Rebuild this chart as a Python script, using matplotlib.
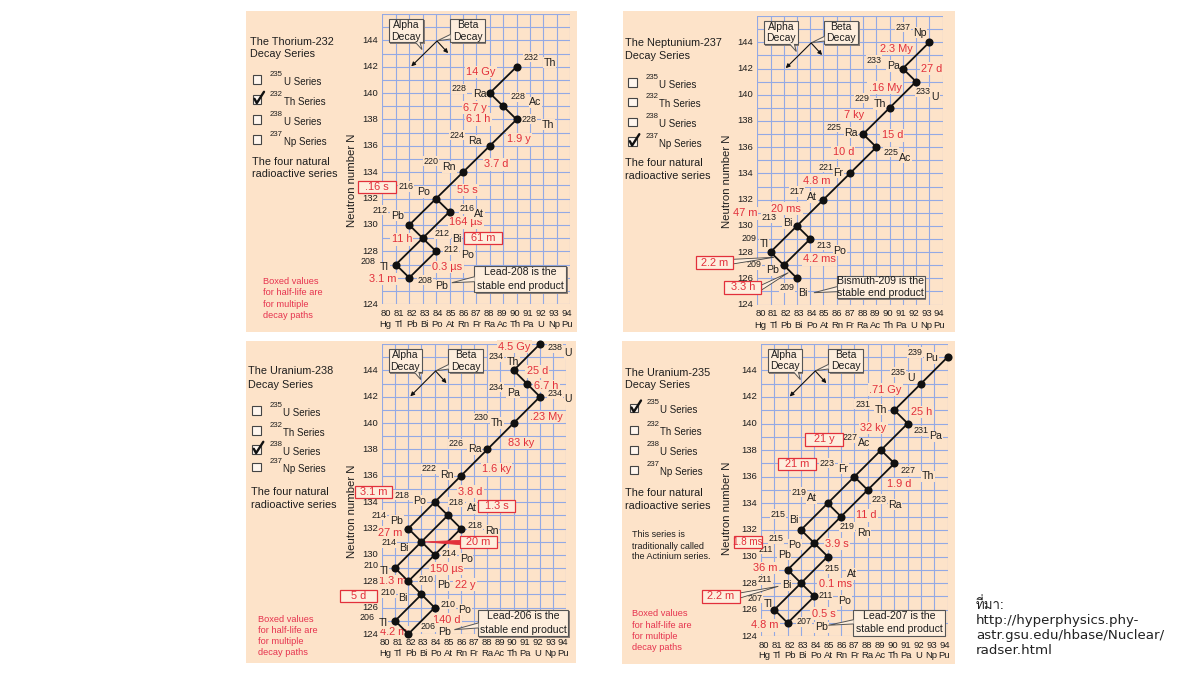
import matplotlib
matplotlib.use('Agg')
import matplotlib.pyplot as plt
from matplotlib.patches import Rectangle, Polygon
from matplotlib.lines import Line2D
from matplotlib import font_manager, ft2font

plt.rcParams['font.family'] = ['Liberation Sans', 'DejaVu Sans']

# ---------------------------------------------------------------- data
Z_TICKS = list(range(80, 95))
Z_TICK_SYMBOLS = ['Hg', 'Tl', 'Pb', 'Bi', 'Po', 'At', 'Rn', 'Fr', 'Ra', 'Ac',
                  'Th', 'Pa', 'U', 'Np', 'Pu']
N_TICKS = list(range(124, 145, 2))
CHECK_MASSES = ['235', '232', '238', '237']
CHECK_NAMES = ['U Series', 'Th Series', 'U Series', 'Np Series']

# Thorium-232 series
TH232_TITLE = ['The Thorium-232', 'Decay Series']
TH232_NUCLIDES = ['Th232', 'Ra228', 'Ac228', 'Th228', 'Ra224', 'Rn220', 'Po216',
                  'Pb212', 'At216', 'Bi212', 'Tl208', 'Po212', 'Pb208']
TH232_Z = [90, 88, 89, 90, 88, 86, 84, 82, 85, 83, 81, 84, 82]
TH232_N = [142, 140, 139, 138, 136, 134, 132, 130, 131, 129, 127, 128, 126]
TH232_DECAYS = [('Th232', 'Ra228'), ('Ra228', 'Ac228'), ('Ac228', 'Th228'),
                ('Th228', 'Ra224'), ('Ra224', 'Rn220'), ('Rn220', 'Po216'),
                ('Po216', 'Pb212'), ('Po216', 'At216'), ('At216', 'Bi212'),
                ('Pb212', 'Bi212'), ('Bi212', 'Tl208'), ('Bi212', 'Po212'),
                ('Tl208', 'Pb208'), ('Po212', 'Pb208')]
TH232_HALFLIVES = ['14 Gy', '6.7 y', '6.1 h', '1.9 y', '3.7 d', '55 s', '.16 s',
                   '164 µs', '61 m', '11 h', '0.3 µs', '3.1 m']
TH232_BOXED = ['.16 s', '61 m']
TH232_END = ['Lead-208 is the', 'stable end product']

# Neptunium-237 series
NP237_TITLE = ['The Neptunium-237', 'Decay Series']
NP237_NUCLIDES = ['Np237', 'Pa233', 'U233', 'Th229', 'Ra225', 'Ac225', 'Fr221',
                  'At217', 'Bi213', 'Tl209', 'Po213', 'Pb209', 'Bi209']
NP237_Z = [93, 91, 92, 90, 88, 89, 87, 85, 83, 81, 84, 82, 83]
NP237_N = [144, 142, 141, 139, 137, 136, 134, 132, 130, 128, 129, 127, 126]
NP237_DECAYS = [('Np237', 'Pa233'), ('Pa233', 'U233'), ('U233', 'Th229'),
                ('Th229', 'Ra225'), ('Ra225', 'Ac225'), ('Ac225', 'Fr221'),
                ('Fr221', 'At217'), ('At217', 'Bi213'), ('Bi213', 'Tl209'),
                ('Bi213', 'Po213'), ('Tl209', 'Pb209'), ('Po213', 'Pb209'),
                ('Pb209', 'Bi209')]
NP237_HALFLIVES = ['2.3 My', '27 d', '.16 My', '7 ky', '15 d', '10 d', '4.8 m',
                   '20 ms', '47 m', '4.2 ms', '2.2 m', '3.3 h']
NP237_BOXED = ['2.2 m', '3.3 h']
NP237_END = ['Bismuth-209 is the', 'stable end product']

# Uranium-238 series
U238_TITLE = ['The Uranium-238', 'Decay Series']
U238_NUCLIDES = ['U238', 'Th234', 'Pa234', 'U234', 'Th230', 'Ra226', 'Rn222',
                 'Po218', 'Pb214', 'At218', 'Rn218', 'Bi214', 'Po214', 'Tl210',
                 'Pb210', 'Bi210', 'Po210', 'Tl206', 'Pb206']
U238_Z = [92, 90, 91, 92, 90, 88, 86, 84, 82, 85, 86, 83, 84, 81, 82, 83, 84, 81, 82]
U238_N = [146, 144, 143, 142, 140, 138, 136, 134, 132, 133, 132, 131, 130, 129,
          128, 127, 126, 125, 124]
U238_DECAYS = [('U238', 'Th234'), ('Th234', 'Pa234'), ('Pa234', 'U234'),
               ('U234', 'Th230'), ('Th230', 'Ra226'), ('Ra226', 'Rn222'),
               ('Rn222', 'Po218'), ('Po218', 'Pb214'), ('Po218', 'At218'),
               ('At218', 'Rn218'), ('At218', 'Bi214'), ('Pb214', 'Bi214'),
               ('Rn218', 'Po214'), ('Bi214', 'Po214'), ('Bi214', 'Tl210'),
               ('Tl210', 'Pb210'), ('Po214', 'Pb210'), ('Pb210', 'Bi210'),
               ('Bi210', 'Po210'), ('Bi210', 'Tl206'), ('Tl206', 'Pb206'),
               ('Po210', 'Pb206')]
U238_HALFLIVES = ['4.5 Gy', '25 d', '6.7 h', '.23 My', '83 ky', '1.6 ky', '3.8 d',
                  '3.1 m', '1.3 s', '27 m', '20 m', '150 µs', '1.3 m', '22 y',
                  '5 d', '140 d', '4.2 m']
U238_BOXED = ['3.1 m', '1.3 s', '20 m', '5 d']
U238_END = ['Lead-206 is the', 'stable end product']

# Uranium-235 series
U235_TITLE = ['The Uranium-235', 'Decay Series']
U235_NUCLIDES = ['Pu239', 'U235', 'Th231', 'Pa231', 'Ac227', 'Th227', 'Fr223',
                 'Ra223', 'At219', 'Rn219', 'Bi215', 'Po215', 'At215', 'Pb211',
                 'Bi211', 'Tl207', 'Po211', 'Pb207']
U235_Z = [94, 92, 90, 91, 89, 90, 87, 88, 85, 86, 83, 84, 85, 82, 83, 81, 84, 82]
U235_N = [145, 143, 141, 140, 138, 137, 136, 135, 134, 133, 132, 131, 130, 129,
          128, 126, 127, 125]
U235_DECAYS = [('Pu239', 'U235'), ('U235', 'Th231'), ('Th231', 'Pa231'),
               ('Pa231', 'Ac227'), ('Ac227', 'Fr223'), ('Ac227', 'Th227'),
               ('Fr223', 'Ra223'), ('Th227', 'Ra223'), ('Fr223', 'At219'),
               ('Ra223', 'Rn219'), ('At219', 'Rn219'), ('At219', 'Bi215'),
               ('Rn219', 'Po215'), ('Bi215', 'Po215'), ('Po215', 'Pb211'),
               ('Po215', 'At215'), ('Pb211', 'Bi211'), ('At215', 'Bi211'),
               ('Bi211', 'Tl207'), ('Bi211', 'Po211'), ('Tl207', 'Pb207'),
               ('Po211', 'Pb207')]
U235_HALFLIVES = ['.71 Gy', '25 h', '32 ky', '21 y', '21 m', '1.9 d', '11 d',
                  '1.8 ms', '3.9 s', '36 m', '0.1 ms', '2.2 m', '0.5 s', '4.8 m']
U235_BOXED = ['21 y', '21 m', '1.8 ms', '2.2 m']
U235_END = ['Lead-207 is the', 'stable end product']

SOURCE_LINES = ['ที่มา:', 'http://hyperphysics.phy-', 'astr.gsu.edu/hbase/Nuclear/',
                'radser.html']

# ---------------------------------------------------------------- layout
W, H = 1200, 675
PEACH = '#fde3c9'
BOXFILL = '#feeedd'
GRID = '#93a9e4'
RED = '#e2303b'
PINK = '#e6344f'
INK = '#1e1e1e'

LAYOUT = [
    dict(series='th', bg=(246, 11, 577, 332), ax=(382.4, 570.3, 14.0, 304.1),
         title=(250, [41.7, 54]), checks=(253, [79.3, 99.3, 119.3, 139.3]), checked=1,
         natural=(252, [161.7, 174]), note=(263, [281, 292.7, 304.3, 315]),
         ylab=(351.7, 180), xrows=(9.5, 20), hidden_ticks=[126],
         labels=[(90.51, 92.0, 142.3), (85.12, 86.73, 139.9), (89.56, 90.95, 139.3),
                 (90.33, 91.87, 137.6), (85.02, 86.41, 136.4), (83.06, 84.47, 134.4),
                 (81.19, 82.58, 132.5), (79.28, 80.62, 130.7), (85.74, 86.85, 130.8),
                 (83.92, 85.22, 128.9), (78.34, 79.83, 126.8), (84.57, 85.86, 127.7),
                 (82.63, 83.92, 125.4)],
         hl=[(87.35, 141.6), (86.9, 138.9), (87.15, 138.0), (90.2, 136.5), (88.5, 134.6),
             (86.35, 132.65), (79.6, 132.9), (86.2, 130.2), (87.5, 129.0), (81.45, 128.9),
             (84.85, 126.8), (80.05, 125.9)],
         box_w={}, box_fs={}, tails=[],
         end=(86.86, 93.7, 124.9, 126.9), end_tail=((125.7, 126.08), (85.17, 125.62))),
    dict(series='np', bg=(623, 11, 955, 332), ax=(757.3, 942.5, 16.1, 304.5),
         title=(625, [43.3, 55.7]), checks=(628.3, [82.3, 102, 122, 141.7]), checked=3,
         natural=(625, [163, 175.7]), note=None, hidden_ticks=[],
         ylab=(727.3, 181.7), xrows=(9.5, 20.5),
         labels=[(90.43, 91.79, 144.74), (88.26, 89.78, 142.2), (91.99, 93.18, 139.8),
                 (87.38, 88.77, 139.3), (85.24, 86.58, 137.1), (89.52, 90.73, 135.2),
                 (84.61, 85.74, 134.05), (82.42, 83.78, 132.2), (80.33, 81.92, 130.2),
                 (78.82, 80.15, 128.6), (84.49, 85.75, 128.1), (79.2, 80.66, 126.6),
                 (81.66, 83.1, 124.85)],
         hl=[(90.5, 143.5), (93.2, 142.0), (89.65, 140.55), (87.3, 138.45), (90.2, 136.9),
             (86.5, 135.6), (84.5, 133.45), (82.2, 131.3), (79.06, 130.95), (84.7, 127.45),
             (76.8, 127.2), (78.9, 125.3)],
         box_w={}, box_fs={},
         tails=[((78.19, 127.45), (78.19, 127.1), (81.26, 127.6), '#444'),
                ((80.33, 125.49), (80.33, 125.11), (82.35, 126.43), '#444')],
         end=(86.0, 92.67, 124.47, 126.2), end_tail=((124.98, 125.36), (84.28, 124.9))),
    dict(series='u8', bg=(246, 341, 576, 663), ax=(382.0, 566.3, 344.0, 634.0),
         title=(248.3, [371.3, 384.7]), checks=(252.3, [410.7, 430.3, 449.3, 466.7]),
         checked=2, natural=(251, [492, 504.7]), note=(258.3, [619, 630.7, 642, 652.3]),
         ylab=(351.7, 511.3), xrows=(8.5, 19), hidden_ticks=[],
         labels=[(92.58, 93.85, 145.3), (88.08, 89.47, 144.6), (88.08, 89.47, 142.3),
                 (92.58, 93.85, 141.8), (86.94, 88.28, 140.0), (85.04, 86.51, 138.0),
                 (83.01, 84.41, 136.1), (80.94, 82.38, 134.1), (79.22, 80.61, 132.6),
                 (85.09, 86.43, 133.56), (86.51, 87.82, 131.84), (79.97, 81.29, 130.5),
                 (84.53, 85.92, 129.7), (78.58, 79.8, 128.75), (82.76, 84.15, 127.7),
                 (79.85, 81.24, 126.7), (84.41, 85.8, 125.85), (78.28, 79.72, 124.8),
                 (82.89, 84.28, 124.15)],
         hl=[(90.05, 145.8), (91.8, 143.93), (92.46, 142.8), (92.46, 140.46), (90.6, 138.5),
             (88.7, 136.5), (86.73, 134.8), (79.34, 134.77), (88.7, 133.7), (80.65, 131.7),
             (87.3, 130.96), (84.9, 128.96), (80.78, 128.0), (86.3, 127.74), (78.2, 126.9),
             (84.95, 125.1), (80.9, 124.15)],
         box_w={}, box_fs={},
         tails=[((85.92, 131.1), (85.92, 130.78), (83.27, 130.99), RED)],
         end=(87.3, 94.15, 123.83, 125.85), end_tail=((124.46, 124.84), (85.5, 124.33))),
    dict(series='u5', bg=(622, 341, 955, 664), ax=(761.0, 947.7, 343.7, 636.3),
         title=(625, [373, 385.3]), checks=(630, [408, 429.7, 449.7, 469.7]), checked=0,
         natural=(625, [493, 506.3]), note=(631.7, [614, 625.3, 636.3, 647.3]),
         actinium=(631.7, [534.7, 546.3, 556.3]), hidden_ticks=[],
         ylab=(726.8, 508), xrows=(9.4, 19.4),
         labels=[(90.98, 92.3, 144.92), (89.73, 90.98, 143.42), (87.05, 88.55, 141.04),
                 (91.43, 92.63, 139.03), (86.15, 87.25, 138.5), (90.43, 92.05, 136.03),
                 (84.38, 85.8, 136.6), (88.3, 89.55, 133.9), (82.3, 83.42, 134.4),
                 (85.88, 87.18, 131.8), (80.68, 82.13, 132.77), (80.55, 82.05, 130.9),
                 (84.8, 86.43, 128.68), (79.8, 81.25, 130.14), (79.75, 81.55, 127.83),
                 (79.0, 80.18, 126.43), (84.3, 85.8, 126.68), (82.63, 84.05, 124.67)],
         hl=[(89.3, 142.54), (92.05, 140.86), (88.43, 139.66), (84.72, 138.8), (82.7, 136.95),
             (90.38, 135.45), (87.9, 133.1), (79.0, 131.1), (85.68, 130.94), (80.3, 129.14),
             (85.55, 127.93), (77.0, 127.0), (84.68, 125.7), (80.3, 124.82)],
         box_w={'1.8 ms': 2.1}, box_fs={'1.8 ms': 7.1},
         tails=[((78.43, 127.26), (78.43, 126.88), (81.3, 127.76), '#444')],
         end=(86.93, 93.8, 124.05, 126.0), end_tail=((124.93, 125.25), (85.05, 124.83))),
]

SERIES = {
    'th': dict(title=TH232_TITLE, nuc=TH232_NUCLIDES, z=TH232_Z, n=TH232_N,
               decays=TH232_DECAYS, hl=TH232_HALFLIVES, boxed=TH232_BOXED, end=TH232_END),
    'np': dict(title=NP237_TITLE, nuc=NP237_NUCLIDES, z=NP237_Z, n=NP237_N,
               decays=NP237_DECAYS, hl=NP237_HALFLIVES, boxed=NP237_BOXED, end=NP237_END),
    'u8': dict(title=U238_TITLE, nuc=U238_NUCLIDES, z=U238_Z, n=U238_N,
               decays=U238_DECAYS, hl=U238_HALFLIVES, boxed=U238_BOXED, end=U238_END),
    'u5': dict(title=U235_TITLE, nuc=U235_NUCLIDES, z=U235_Z, n=U235_N,
               decays=U235_DECAYS, hl=U235_HALFLIVES, boxed=U235_BOXED, end=U235_END),
}


def find_font_with(ch):
    for f in font_manager.fontManager.ttflist:
        try:
            if ft2font.FT2Font(f.fname).get_char_index(ord(ch)):
                return f.name
        except Exception:
            pass
    return None


fig = plt.figure(figsize=(W / 100, H / 100), dpi=100)
fig.patch.set_facecolor('white')


def ftext(x, y, s, **kw):
    kw.setdefault('color', INK)
    return fig.text(x / W, 1 - y / H, s, **kw)


def fline(xs, ys, **kw):
    fig.add_artist(Line2D([x / W for x in xs], [1 - y / H for y in ys],
                          transform=fig.transFigure, **kw))


BG_LAB = dict(boxstyle='square,pad=0.06', fc=PEACH, ec='none')
BG_HL = dict(boxstyle='square,pad=0.12', fc=PEACH, ec='none')


def callout_box(ax, z0, z1, n0, n1, lines, fs, tail=None, zorder=7):
    ax.add_patch(Rectangle((z0 + 0.1, n0 - 0.1), z1 - z0, n1 - n0, fc='#8a7f78',
                           ec='none', zorder=zorder - 0.2, clip_on=False))
    ax.add_patch(Rectangle((z0, n0), z1 - z0, n1 - n0, fc=BOXFILL, ec='#555',
                           lw=0.8, zorder=zorder, clip_on=False))
    if tail is not None:
        ax.add_patch(Polygon(tail, closed=False, fc=BOXFILL, ec='#555', lw=0.7,
                             zorder=zorder + 0.1, clip_on=False))
    k = len(lines)
    for i, s in enumerate(lines):
        yy = n1 - (n1 - n0) * (i + 0.5) / k
        ax.text((z0 + z1) / 2, yy, s, fontsize=fs, ha='center', va='center',
                color=INK, zorder=zorder + 0.2, clip_on=False)


for lay in LAYOUT:
    S = SERIES[lay['series']]
    x0, y0, x1, y1 = lay['bg']
    fig.add_artist(Rectangle((x0 / W, 1 - y1 / H), (x1 - x0) / W, (y1 - y0) / H,
                             transform=fig.transFigure, fc=PEACH, ec='none', zorder=0))
    zl, zr, nt, nb = lay['ax']
    ax = fig.add_axes([zl / W, 1 - nb / H, (zr - zl) / W, (nb - nt) / H])
    ax.set_xlim(80, 94)
    ax.set_ylim(124, 146)
    ax.patch.set_alpha(0)
    ax.set_xticks(Z_TICKS)
    ax.set_yticks(list(range(124, 147)))
    ax.tick_params(length=0, labelbottom=False, labelleft=False)
    ax.grid(True, color=GRID, lw=0.8)
    ax.set_axisbelow(True)
    for sp in ax.spines.values():
        sp.set_visible(False)

    # tick labels
    r1, r2 = lay['xrows']
    for z, sym in zip(Z_TICKS, Z_TICK_SYMBOLS):
        zp = 87 + (z - 87) * 0.965
        ax.annotate(str(z), (zp, 0), xycoords=('data', 'axes fraction'),
                    xytext=(0, -r1 * 0.72), textcoords='offset points', ha='center',
                    va='center', fontsize=6.8, color=INK, annotation_clip=False)
        ax.annotate(sym, (zp, 0), xycoords=('data', 'axes fraction'),
                    xytext=(0, -r2 * 0.72), textcoords='offset points', ha='center',
                    va='center', fontsize=6.8, color=INK, annotation_clip=False)
    for n in N_TICKS:
        if n in lay['hidden_ticks']:
            continue
        ax.annotate(str(n), (0, n), xycoords=('axes fraction', 'data'),
                    xytext=(-3, 0), textcoords='offset points', ha='right',
                    va='center', fontsize=6.8, color=INK, annotation_clip=False,
                    zorder=9)
    ftext(lay['ylab'][0], lay['ylab'][1], 'Neutron number N', rotation=90,
          ha='center', va='center', fontsize=8.2)

    # decay paths
    pos = {k: (z, n) for k, z, n in zip(S['nuc'], S['z'], S['n'])}
    for a, b in S['decays']:
        ax.plot([pos[a][0], pos[b][0]], [pos[a][1], pos[b][1]], color='#111', lw=1.3,
                zorder=5, clip_on=False, solid_capstyle='round')
    ax.scatter(S['z'], S['n'], s=34, color='#111', zorder=6, clip_on=False,
               linewidths=0)

    # nuclide labels
    for key, (zn, zs, ns) in zip(S['nuc'], lay['labels']):
        sym = key.rstrip('0123456789')
        mass = key[len(sym):]
        ax.text(zs, ns, sym, fontsize=7.6, ha='left', va='center', color=INK,
                zorder=4.4, bbox=BG_LAB, clip_on=False)
        ax.text(zn, ns + 0.42, mass, fontsize=6.4, ha='left', va='center', color=INK,
                zorder=4.5, bbox=BG_LAB, clip_on=False)

    # half-lives
    for hl, (z, n) in zip(S['hl'], lay['hl']):
        if hl in S['boxed']:
            bw = lay['box_w'].get(hl, 2.8)
            ax.add_patch(Rectangle((z - bw / 2, n - 0.47), bw, 0.94, fc=BOXFILL, ec=RED,
                                   lw=0.9, zorder=7, clip_on=False))
            ax.text(z, n, hl, fontsize=lay['box_fs'].get(hl, 7.9), ha='center',
                    va='center', color=RED, zorder=7.2, clip_on=False)
        else:
            ax.text(z, n, hl, fontsize=7.9, ha='center', va='center', color=RED,
                    zorder=4.0, bbox=BG_HL, clip_on=False)
    for p1, p2, tip, col in lay['tails']:
        ax.add_patch(Polygon([p1, tip, p2], closed=True,
                             fc=(RED if col == RED else BOXFILL), ec=col, lw=0.6,
                             zorder=6.9, clip_on=False))

    # end-product callout
    z0, z1, n0, n1 = lay['end']
    (ta, tb), tip = lay['end_tail']
    callout_box(ax, z0, z1, n0, n1, S['end'], 7.6,
                tail=[(z0 + 0.02, tb), tip, (z0 + 0.02, ta)])

    # alpha / beta legend
    callout_box(ax, 80.5, 83.05, 143.85, 145.62, ['Alpha', 'Decay'], 7.5,
                tail=[(82.45, 143.87), (82.95, 143.3), (82.8, 143.87)])
    callout_box(ax, 85.05, 87.65, 143.85, 145.62, ['Beta', 'Decay'], 7.5,
                tail=[(85.07, 144.45), (84.1, 143.97), (85.07, 144.1)])
    arr = dict(arrowstyle='-|>', lw=0.8, color='#111', mutation_scale=6,
               shrinkA=0, shrinkB=0)
    ax.annotate('', xy=(82.15, 142.03), xytext=(84.07, 143.95), arrowprops=arr,
                zorder=8)
    ax.annotate('', xy=(84.9, 143.03), xytext=(84.07, 143.95), arrowprops=arr,
                zorder=8)

    # left-hand texts
    tx, tys = lay['title']
    for s, yy in zip(S['title'], tys):
        ftext(tx, yy, s, fontsize=7.8, ha='left', va='center')
    bx, bys = lay['checks']
    for i, (yy, m, name) in enumerate(zip(bys, CHECK_MASSES, CHECK_NAMES)):
        fig.add_artist(Rectangle((bx / W, 1 - (yy + 4.2) / H), 8.4 / W, 8.4 / H,
                                 transform=fig.transFigure, fc='#fff6ee', ec='#444',
                                 lw=0.8, zorder=3))
        ftext(bx + 17, yy - 5, m, fontsize=5.6, ha='left', va='center')
        ftext(bx + 30.5, yy + 2.4, name, fontsize=7.0, ha='left', va='center')
        if i == lay['checked']:
            fline([bx + 1.5, bx + 3.8, bx + 11], [yy - 0.5, yy + 3.8, yy - 7.5],
                  color='#111', lw=1.7, zorder=4, solid_capstyle='round')
    nx, nys = lay['natural']
    for s, yy in zip(['The four natural', 'radioactive series'], nys):
        ftext(nx, yy, s, fontsize=7.8, ha='left', va='center')
    if lay.get('actinium'):
        ax_, ays = lay['actinium']
        for s, yy in zip(['This series is', 'traditionally called',
                          'the Actinium series.'], ays):
            ftext(ax_, yy, s, fontsize=6.5, ha='left', va='center')
    if lay.get('note'):
        ox, oys = lay['note']
        for s, yy in zip(['Boxed values', 'for half-life are', 'for multiple',
                          'decay paths'], oys):
            ftext(ox, yy, s, fontsize=6.7, ha='left', va='center', color=PINK)

# source note
thai = find_font_with('ม')
fam0 = [thai, 'DejaVu Sans'] if thai else ['DejaVu Sans']
for i, (s, yy) in enumerate(zip(SOURCE_LINES, [605, 620.5, 635.5, 650.5])):
    ftext(976, yy, s, fontsize=9.6, ha='left', va='center', color='#222',
          family=(fam0 if i == 0 else ['DejaVu Sans']))

fig.savefig('out.png', dpi=100, facecolor='white')
